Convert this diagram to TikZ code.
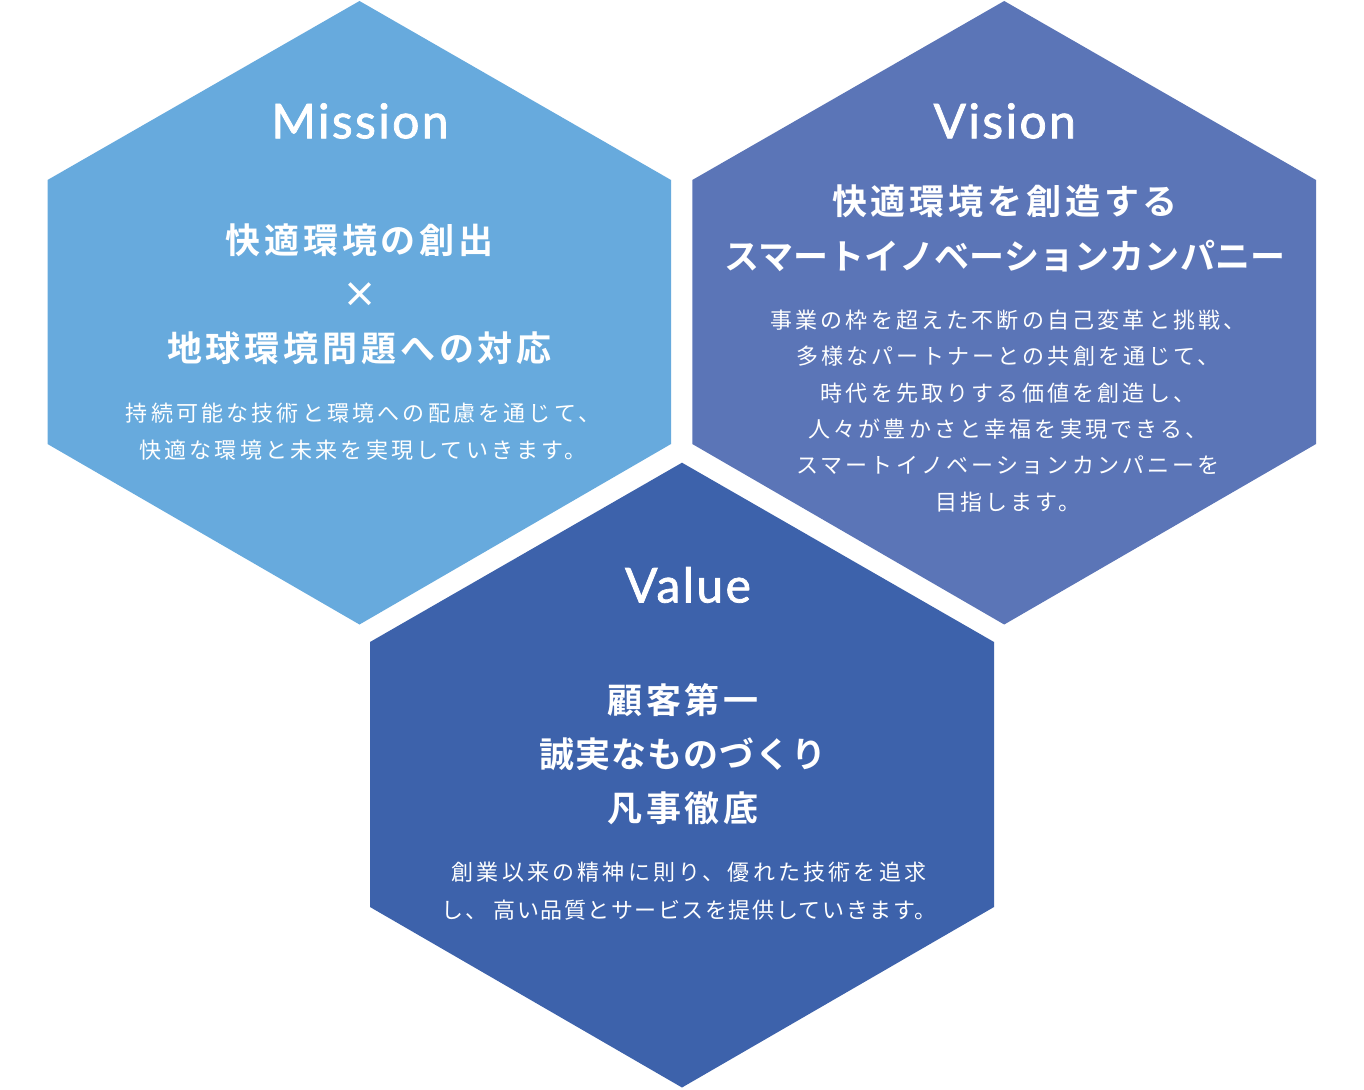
\documentclass[tikz,border=0pt]{standalone}
\usepackage{fontspec}
\setmainfont{Lato}
\newfontfamily\titlefont[LetterSpace=5,FakeBold=1.6]{Lato}
\newfontfamily\jphead[LetterSpace=11]{Noto Sans CJK JP Bold}
\newfontfamily\jpbody[LetterSpace=14.5]{Noto Sans CJK JP}
\definecolor{missioncol}{HTML}{67AADD}
\definecolor{visioncol}{HTML}{5B75B7}
\definecolor{valuecol}{HTML}{3D62AB}
\tikzset{
  hexfill/.style={fill=#1, draw=none},
  titletext/.style={text=white, font=\titlefont\fontsize{48}{48}\selectfont, inner sep=0pt},
  headtext/.style={text=white, align=center, inner sep=0pt},
  bodytext/.style={text=white, align=center, inner sep=0pt},
}
\begin{document}
\begin{tikzpicture}[x=1pt,y=-1pt]
\useasboundingbox (0,0) rectangle (1364,1089);
\fill[white] (0,0) rectangle (1364,1089);
% Mission hexagon
\fill[hexfill=missioncol] (359.5,1) -- (671,180) -- (671,444) -- (359.5,624.5) -- (47.5,444) -- (47.5,180) -- cycle;
% Vision hexagon
\fill[hexfill=visioncol] (1004.2,1) -- (1316,180) -- (1316,444) -- (1004.2,624.5) -- (692.3,444) -- (692.3,180) -- cycle;
% Value hexagon
\fill[hexfill=valuecol] (682,462.7) -- (994,642) -- (994,907) -- (682,1087.5) -- (370,907) -- (370,642) -- cycle;

% Mission texts
\node[titletext] (mtitle) at (360,121) {Mission};
\node[headtext, font=\jphead\fontsize{35}{54}\selectfont] (mhead) at (359.5,294) {快適環境の創出\\×\\地球環境問題への対応};
\node[bodytext, font=\jpbody\fontsize{22}{37}\selectfont] (mbody) at (363,431.5) {持続可能な技術と環境への配慮を通じて、\\快適な環境と未来を実現していきます。};

% Vision texts
\node[titletext] (vtitle) at (1004.7,121) {Vision};
\node[headtext, font=\jphead\fontsize{35}{55}\selectfont] (vhead) at (1005,228.5) {快適環境を創造する\\{\addfontfeature{LetterSpace=0.5}スマートイノベーションカンパニー}};
\node[bodytext, font=\jpbody\fontsize{22}{36.4}\selectfont] (vbody) at (1008,411) {事業の枠を超えた不断の自己変革と挑戦、\\多様なパートナーとの共創を通じて、\\時代を先取りする価値を創造し、\\人々が豊かさと幸福を実現できる、\\スマートイノベーションカンパニーを\\目指します。};

% Value texts
\node[titletext] (valtitle) at (688,585) {Value};
\node[headtext, font=\jphead\fontsize{35}{54}\selectfont] (valhead) at (683,754) {顧客第一\\{\addfontfeature{LetterSpace=3}誠実なものづくり}\\凡事徹底};
\node[bodytext, font=\jpbody\fontsize{22}{38}\selectfont] (valbody) at (689,891) {創業以来の精神に則り、優れた技術を追求\\{\addfontfeature{LetterSpace=7}し、 高い品質とサービスを提供していきます。}};
\end{tikzpicture}
\end{document}
